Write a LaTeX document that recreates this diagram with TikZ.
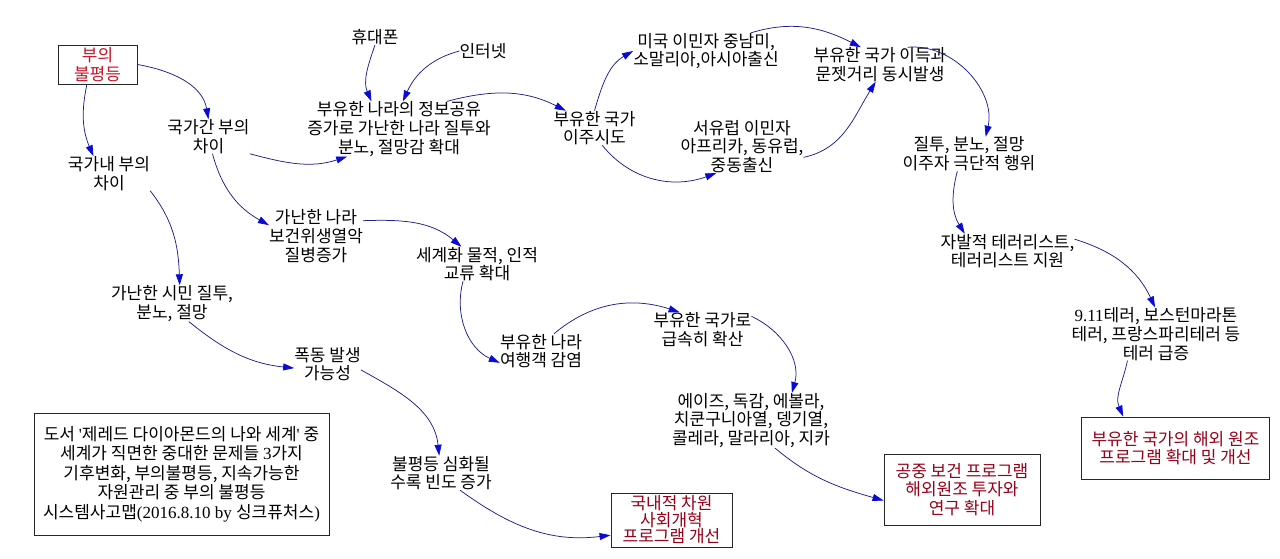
\documentclass[tikz,border=0pt]{standalone}
\usepackage{fontspec}
\setmainfont{Noto Sans CJK KR}
\newfontfamily\numfont{Liberation Serif}
\usetikzlibrary{arrows.meta}
\definecolor{linknavy}{RGB}{30,30,140}
\definecolor{tipblue}{RGB}{10,10,215}
\definecolor{boxred}{RGB}{150,0,25}
\definecolor{rootred}{RGB}{195,20,40}
\begin{document}
\begin{tikzpicture}[x=1pt, y=1pt,
    txt/.style={align=center, inner sep=0pt, font=\fontsize{17}{18.7}\selectfont},
    box/.style={txt, draw=black!85, line width=0.9pt, text=boxred},
    link/.style={linknavy, line width=0.75pt, -{Triangle[length=11pt, width=7pt, tipblue]}}]
                \useasboundingbox (0,0) rectangle (1280,-559);
                % Boxes
                \node[box, text=rootred, minimum width=79, minimum height=39] (ineq) at (97.5,-64.5) {부의\\불평등};
                \node[box, minimum width=188, minimum height=62] (aid) at (1175.5,-448) {부유한 국가의 해외 원조\\프로그램 확대 및 개선};
                \node[box, minimum width=156, minimum height=71] (public) at (962,-489.5) {공중 보건 프로그램\\해외원조 투자와\\연구 확대};
                \node[box, minimum width=121, minimum height=54, font=\fontsize{17}{16.5}\selectfont] (domestic) at (671.5,-520) {국내적 차원\\사회개혁\\프로그램 개선};
                \node[box, text=black, minimum width=295, minimum height=122, font=\fontsize{17}{19.5}\selectfont] (note) at (181.5,-474)
                    {도서 {\numfont\textquotesingle}제레드 다이아몬드의 나와 세계{\numfont\textquotesingle} 중\\세계가 직면한 중대한 문제들 {\numfont 3}가지\\기후변화, 부의불평등, 지속가능한\\자원관리 중 부의 불평등\\시스템사고맵{\numfont (2016.8.10 by }싱크퓨처스{\numfont )}};
                % Variables
                \node[txt] (between) at (208.5,-136.5) {국가간 부의\\차이};
                \node[txt] (within) at (109,-173.5) {국가내 부의\\차이};
                \node[txt] (phone) at (375,-37) {휴대폰};
                \node[txt] (net) at (483,-51) {인터넷};
                \node[txt] (info) at (399,-129) {부유한 나라의 정보공유\\증가로 가난한 나라 질투와\\분노, 절망감 확대};
                \node[txt] (migrate) at (594.5,-128) {부유한 국가\\이주시도};
                \node[txt] (usa) at (706,-51) {미국 이민자 중남미,\\소말리아,아시아출신};
                \node[txt] (weu) at (742,-146.5) {서유럽 이민자\\아프리카, 동유럽,\\중동출신};
                \node[txt] (gain) at (880,-64.5) {부유한 국가 이득과\\문젯거리 동시발생};
                \node[txt] (jealous) at (969,-154) {질투, 분노, 절망\\이주자 극단적 행위};
                \node[txt] (terr) at (1007.5,-251) {자발적 테러리스트,\\테러리스트 지원};
                \node[txt] (surge) at (1156,-334) {{\numfont 9.11}테러, 보스턴마라톤\\테러, 프랑스파리테러 등\\테러 급증};
                \node[txt] (poor) at (316,-236) {가난한 나라\\보건위생열악\\질병증가};
                \node[txt] (global) at (477,-264) {세계화 물적, 인적\\교류 확대};
                \node[txt] (travel) at (541,-351) {부유한 나라\\여행객 감염};
                \node[txt] (spread) at (702.5,-329.5) {부유한 국가로\\급속히 확산};
                \node[txt] (disease) at (751,-420.5) {에이즈, 독감, 에볼라,\\치쿤구니아열, 뎅기열,\\콜레라, 말라리아, 지카};
                \node[txt] (citizen) at (172,-303.5) {가난한 시민 질투,\\분노, 절망};
                \node[txt] (riot) at (327.5,-364) {폭동 발생\\가능성};
                \node[txt] (worsen) at (441,-473) {불평등 심화될\\수록 빈도 증가};
                % Causal links
                \foreach \s/\o/\i/\t in {ineq.east/-10/100/between.north, ineq.242/-102/113/within.132,
                    between.south east/-15/198/info.208, phone.south/-109/113/info.135, net.west/195/66/info.82,
                    info.30/15/153/migrate.149, migrate.north/74/210/usa.west, migrate.294/-51/200/weu.226,
                    usa.22/17/153/gain.138, weu.350/12/238/gain.256, gain.32/5/77/jealous.46,
                    jealous.236/-105/122/terr.158, terr.10/-17/115/surge.92, surge.223/-102/113/aid.149,
                    between.283/-75/151/poor.167, poor.18/2/140/global.132, global.231/-105/156/travel.196,
                    travel.53/40/162/spread.143, spread.15/-25/74/disease.34, disease.311/-40/164/public.188,
                    within.south east/-52/92/citizen.67, citizen.313/-39/174/riot.187,
                    riot.350/-29/96/worsen.96, worsen.318/-36/187/domestic.194}
                    \draw[link] (\s) to[out=\o, in=\i] (\t);
            \end{tikzpicture}
\end{document}
